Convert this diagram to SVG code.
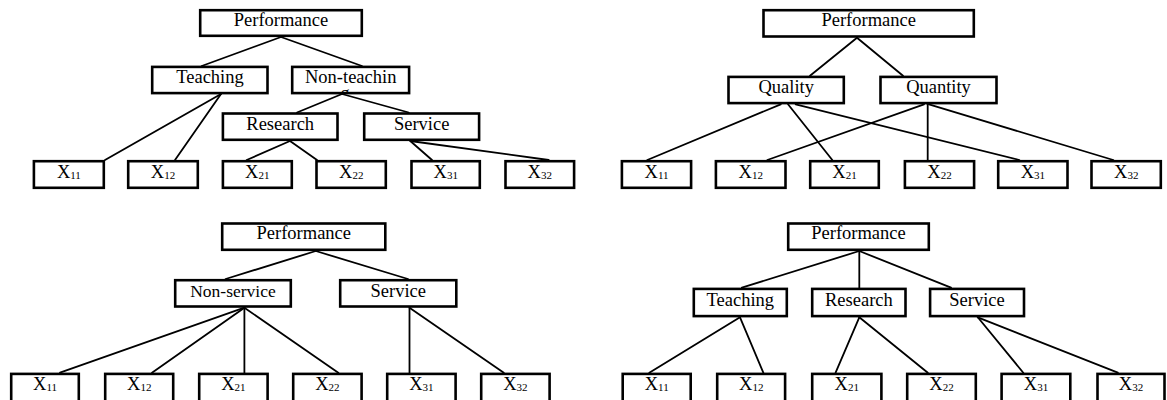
<svg xmlns="http://www.w3.org/2000/svg" width="1167" height="400" viewBox="0 0 1167 400">
<style>
  .box { fill: #ffffff; stroke: #000000; stroke-width: 2.6; }
  .lbl { font-family: "Liberation Serif", "Times New Roman", serif; font-size: 18.5px; fill: #000000; text-anchor: middle; }
  .sub { font-size: 11px; }
  .conn line { stroke: #000000; stroke-width: 1.8; stroke-linecap: round; }
</style>
<defs>
  <clipPath id="clipNT"><rect x="292.5" y="67" width="116.5" height="25.5"/></clipPath>
</defs>
<rect width="1167" height="400" fill="#ffffff"/>

<g id="connectors" class="conn">
  <!-- Panel 1 -->
  <line x1="281" y1="37" x2="201.7" y2="66"/>
  <line x1="281" y1="37" x2="362" y2="66"/>
  <line x1="221" y1="94" x2="105" y2="160"/>
  <line x1="221" y1="94" x2="175" y2="160"/>
  <line x1="342" y1="94" x2="297" y2="112.5"/>
  <line x1="342" y1="94" x2="408.7" y2="112.5"/>
  <line x1="290" y1="141" x2="246.7" y2="160"/>
  <line x1="290" y1="141" x2="317" y2="160"/>
  <line x1="410.3" y1="141" x2="432" y2="160"/>
  <line x1="410.3" y1="141" x2="548.7" y2="160"/>
  <!-- Panel 2 -->
  <line x1="857" y1="37.7" x2="810" y2="75.7"/>
  <line x1="857" y1="37.7" x2="903" y2="75.7"/>
  <line x1="780.7" y1="104.3" x2="647.3" y2="160"/>
  <line x1="788" y1="104.3" x2="832.3" y2="160"/>
  <line x1="795.7" y1="104.3" x2="1019.3" y2="160"/>
  <line x1="924" y1="104.3" x2="767.3" y2="160"/>
  <line x1="927.7" y1="104.3" x2="927.7" y2="160"/>
  <line x1="929" y1="104.3" x2="1113.3" y2="160"/>
  <!-- Panel 3 -->
  <line x1="315.8" y1="251" x2="225.6" y2="279"/>
  <line x1="315.8" y1="251" x2="408" y2="279"/>
  <line x1="244.4" y1="307.7" x2="60" y2="372.7"/>
  <line x1="244.4" y1="307.7" x2="152" y2="372.7"/>
  <line x1="244.4" y1="307.7" x2="244.4" y2="372.7"/>
  <line x1="244.4" y1="307.7" x2="338.3" y2="372.7"/>
  <line x1="409.5" y1="307.7" x2="409.5" y2="372.7"/>
  <line x1="409.5" y1="307.7" x2="503.8" y2="372.7"/>
  <!-- Panel 4 -->
  <line x1="859.3" y1="251" x2="741.9" y2="287.7"/>
  <line x1="859.3" y1="251" x2="859.3" y2="287.7"/>
  <line x1="859.3" y1="251" x2="951" y2="287.7"/>
  <line x1="740" y1="317.3" x2="649.3" y2="372.7"/>
  <line x1="740" y1="317.3" x2="763.3" y2="372.7"/>
  <line x1="859.3" y1="317.3" x2="835.6" y2="372.7"/>
  <line x1="859.3" y1="317.3" x2="927.8" y2="372.7"/>
  <line x1="977.8" y1="317.3" x2="1023.3" y2="372.7"/>
  <line x1="977.8" y1="317.3" x2="1117.8" y2="372.7"/>
</g>

<!-- ===== Panel 1 ===== -->
<g id="p1-performance"><rect class="box" x="200.2" y="10.2" width="161.6" height="25.6"/><text class="lbl" x="281" y="26">Performance</text></g>
<g id="p1-teaching"><rect class="box" x="152.2" y="66.9" width="115.3" height="26.2"/><text class="lbl" x="210" y="83.3">Teaching</text></g>
<g id="p1-nonteaching"><rect class="box" x="292.2" y="66.9" width="116.9" height="26.2"/><text class="lbl" x="350.7" y="83.3" clip-path="url(#clipNT)">Non-teachin<tspan x="345" y="99">g</tspan></text></g>
<g id="p1-research"><rect class="box" x="222.9" y="113.5" width="114.6" height="26.3"/><text class="lbl" x="280.2" y="130">Research</text></g>
<g id="p1-service"><rect class="box" x="364.2" y="113.5" width="114.9" height="26.3"/><text class="lbl" x="421.7" y="130">Service</text></g>
<g id="p1-x11"><rect class="box" x="33.9" y="161.2" width="69.9" height="26.6"/><text class="lbl" x="68.9" y="178.3">X<tspan class="sub" dy="1">11</tspan></text></g>
<g id="p1-x12"><rect class="box" x="128.2" y="161.2" width="69.6" height="26.6"/><text class="lbl" x="163" y="178.3">X<tspan class="sub" dy="1">12</tspan></text></g>
<g id="p1-x21"><rect class="box" x="222.9" y="161.2" width="68.9" height="26.6"/><text class="lbl" x="257.3" y="178.3">X<tspan class="sub" dy="1">21</tspan></text></g>
<g id="p1-x22"><rect class="box" x="316.5" y="161.2" width="69.3" height="26.6"/><text class="lbl" x="351.2" y="178.3">X<tspan class="sub" dy="1">22</tspan></text></g>
<g id="p1-x31"><rect class="box" x="411.5" y="161.2" width="68.3" height="26.6"/><text class="lbl" x="445.7" y="178.3">X<tspan class="sub" dy="1">31</tspan></text></g>
<g id="p1-x32"><rect class="box" x="505.5" y="161.2" width="68.6" height="26.6"/><text class="lbl" x="539.8" y="178.3">X<tspan class="sub" dy="1">32</tspan></text></g>

<!-- ===== Panel 2 ===== -->
<g id="p2-performance"><rect class="box" x="763.5" y="10.2" width="210.3" height="26.3"/><text class="lbl" x="868.7" y="26">Performance</text></g>
<g id="p2-quality"><rect class="box" x="728.5" y="76.9" width="115.3" height="26.2"/><text class="lbl" x="786.2" y="93.3">Quality</text></g>
<g id="p2-quantity"><rect class="box" x="880.5" y="76.9" width="116" height="26.2"/><text class="lbl" x="938.5" y="93.3">Quantity</text></g>
<g id="p2-x11"><rect class="box" x="621.9" y="161.2" width="69.2" height="26.6"/><text class="lbl" x="656.5" y="178.3">X<tspan class="sub" dy="1">11</tspan></text></g>
<g id="p2-x12"><rect class="box" x="715.9" y="161.2" width="69.6" height="26.6"/><text class="lbl" x="750.7" y="178.3">X<tspan class="sub" dy="1">12</tspan></text></g>
<g id="p2-x21"><rect class="box" x="810.2" y="161.2" width="68.6" height="26.6"/><text class="lbl" x="844.5" y="178.3">X<tspan class="sub" dy="1">21</tspan></text></g>
<g id="p2-x22"><rect class="box" x="904.9" y="161.2" width="69.2" height="26.6"/><text class="lbl" x="939.5" y="178.3">X<tspan class="sub" dy="1">22</tspan></text></g>
<g id="p2-x31"><rect class="box" x="998.2" y="161.2" width="69.3" height="26.6"/><text class="lbl" x="1032.9" y="178.3">X<tspan class="sub" dy="1">31</tspan></text></g>
<g id="p2-x32"><rect class="box" x="1091.5" y="161.2" width="69.3" height="26.6"/><text class="lbl" x="1126.2" y="178.3">X<tspan class="sub" dy="1">32</tspan></text></g>

<!-- ===== Panel 3 ===== -->
<g id="p3-performance"><rect class="box" x="222.2" y="223.5" width="163.1" height="26.3"/><text class="lbl" x="303.8" y="239.3">Performance</text></g>
<g id="p3-nonservice"><rect class="box" x="175.2" y="280.2" width="115.6" height="26.3"/><text class="lbl" x="233" y="296.7" style="font-size:17.5px">Non-service</text></g>
<g id="p3-service"><rect class="box" x="340.2" y="280.2" width="116.1" height="26.3"/><text class="lbl" x="398.3" y="296.7">Service</text></g>
<g id="p3-x11"><rect class="box" x="11.2" y="373.9" width="67.6" height="30"/><text class="lbl" x="45" y="390">X<tspan class="sub" dy="1">11</tspan></text></g>
<g id="p3-x12"><rect class="box" x="105.2" y="373.9" width="68" height="30"/><text class="lbl" x="139.2" y="390">X<tspan class="sub" dy="1">12</tspan></text></g>
<g id="p3-x21"><rect class="box" x="199.2" y="373.9" width="68.4" height="30"/><text class="lbl" x="233.4" y="390">X<tspan class="sub" dy="1">21</tspan></text></g>
<g id="p3-x22"><rect class="box" x="293.2" y="373.9" width="68.4" height="30"/><text class="lbl" x="327.4" y="390">X<tspan class="sub" dy="1">22</tspan></text></g>
<g id="p3-x31"><rect class="box" x="387.2" y="373.9" width="68.4" height="30"/><text class="lbl" x="421.4" y="390">X<tspan class="sub" dy="1">31</tspan></text></g>
<g id="p3-x32"><rect class="box" x="481.2" y="373.9" width="68.4" height="30"/><text class="lbl" x="515.4" y="390">X<tspan class="sub" dy="1">32</tspan></text></g>

<!-- ===== Panel 4 ===== -->
<g id="p4-performance"><rect class="box" x="788.2" y="223.5" width="140.6" height="26.3"/><text class="lbl" x="858.5" y="239.3">Performance</text></g>
<g id="p4-teaching"><rect class="box" x="693.8" y="288.9" width="93" height="27.2"/><text class="lbl" x="740.3" y="306">Teaching</text></g>
<g id="p4-research"><rect class="box" x="812.2" y="288.9" width="93.3" height="27.2"/><text class="lbl" x="858.9" y="306">Research</text></g>
<g id="p4-service"><rect class="box" x="930.1" y="288.9" width="93.9" height="27.2"/><text class="lbl" x="977" y="306">Service</text></g>
<g id="p4-x11"><rect class="box" x="622.7" y="373.9" width="68" height="30"/><text class="lbl" x="656.7" y="390">X<tspan class="sub" dy="1">11</tspan></text></g>
<g id="p4-x12"><rect class="box" x="717.2" y="373.9" width="67.9" height="30"/><text class="lbl" x="751.2" y="390">X<tspan class="sub" dy="1">12</tspan></text></g>
<g id="p4-x21"><rect class="box" x="812.2" y="373.9" width="69.2" height="30"/><text class="lbl" x="846.8" y="390">X<tspan class="sub" dy="1">21</tspan></text></g>
<g id="p4-x22"><rect class="box" x="907.2" y="373.9" width="68.6" height="30"/><text class="lbl" x="941.5" y="390">X<tspan class="sub" dy="1">22</tspan></text></g>
<g id="p4-x31"><rect class="box" x="1001.6" y="373.9" width="68.7" height="30"/><text class="lbl" x="1036" y="390">X<tspan class="sub" dy="1">31</tspan></text></g>
<g id="p4-x32"><rect class="box" x="1097.5" y="373.9" width="67" height="30"/><text class="lbl" x="1131" y="390">X<tspan class="sub" dy="1">32</tspan></text></g>
</svg>
